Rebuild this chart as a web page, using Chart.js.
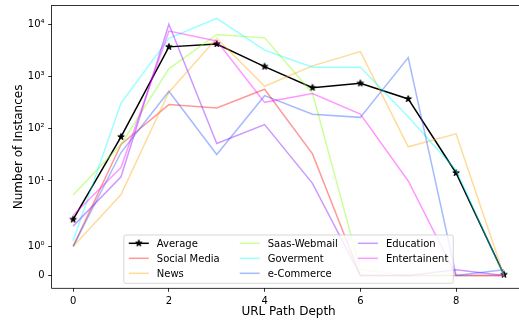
<!DOCTYPE html>
<html>
<head>
<meta charset="utf-8">
<script src="https://cdn.jsdelivr.net/npm/chart.js@4/dist/chart.umd.min.js"></script>
<style>
  html, body { margin: 0; padding: 0; background: #fff; overflow: hidden; }
  canvas { display: block; }
</style>
</head>
<body>
<canvas id="depthChart" width="531" height="322"></canvas>
<script>
// instances per URL path depth, one line per site category
const depths = [0, 1, 2, 3, 4, 5, 6, 7, 8, 9];

const average       = [1.93, 70, 3700, 4200, 1550, 610, 740, 372, 14.2, 0.03];
const socialMedia   = [1, 50, 290, 250, 570, 33, 0, 0, 0, 0];
const news          = [1, 5.5, 500, 5400, 650, 1600, 3000, 45, 80, 0];
const saasWebmail   = [5.4, 50, 1400, 6400, 5500, 480, 0.2, 0, 0, 0];
const goverment     = [1.2, 310, 5400, 13000, 3200, 1500, 1500, 170, 16, 0];
const eCommerce     = [1, 35, 520, 32, 430, 190, 165, 2300, 0, 0.2];
const education     = [1.7, 12, 10000, 52, 120, 9, 0, 0, 0.2, 0];
const entertainment = [2.2, 18, 7400, 4800, 320, 470, 190, 10, 0, 0];

const seriesNames = ['Average', 'Social Media', 'News', 'Saas-Webmail',
                     'Goverment', 'e-Commerce', 'Education', 'Entertainent'];
const seriesValues = [average, socialMedia, news, saasWebmail,
                      goverment, eCommerce, education, entertainment];

const depthTicks = [0, 2, 4, 6, 8];
const countTicks = [0, 1, 10, 100, 1000, 10000];
const countLabels = ['0', '10⁰', '10¹', '10²', '10³', '10⁴'];

const seriesColors = ['#000000', 'rgba(255,0,0,0.4)', 'rgba(255,165,0,0.4)', 'rgba(127,255,0,0.4)',
                      'rgba(0,255,255,0.4)', 'rgba(30,80,255,0.4)', 'rgba(128,0,255,0.4)', 'rgba(255,0,255,0.4)'];

// symmetric log: linear below LINTHRESH, log10 above
const LINTHRESH = 2;
const LINSCALE = 1 / (1 - 1 / 10);
function symlog(v){
  const a = Math.abs(v);
  const t = a <= LINTHRESH ? a * LINSCALE / LINTHRESH : LINSCALE + Math.log10(a / LINTHRESH);
  return Math.sign(v) * t;
}
function symexp(t){
  const a = Math.abs(t);
  const v = a <= LINSCALE ? a * LINTHRESH / LINSCALE : LINTHRESH * Math.pow(10, a - LINSCALE);
  return Math.sign(t) * v;
}

class SymlogScale extends Chart.Scale {
  determineDataLimits(){
    const {min, max} = this.getMinMax(true);
    const lo = symlog(min), hi = symlog(max), pad = (hi - lo) * 0.05;
    this.min = symexp(lo - pad);
    this.max = symexp(hi + pad);
  }
  buildTicks(){
    return countTicks.map(value => ({value}));
  }
  configure(){
    super.configure();
    this._lo = symlog(this.min);
    this._hi = symlog(this.max);
  }
  getPixelForValue(value){
    return this.getPixelForDecimal((symlog(value) - this._lo) / (this._hi - this._lo));
  }
  getValueForPixel(pixel){
    return symexp(this._lo + this.getDecimalForPixel(pixel) * (this._hi - this._lo));
  }
  getLabelForValue(value){
    return String(value);
  }
}
SymlogScale.id = 'symlog';
SymlogScale.defaults = {};
Chart.register(SymlogScale);

// filled five point star for the average line
function starMarker(size){
  const c = document.createElement('canvas');
  c.width = c.height = size;
  const g = c.getContext('2d');
  const r = size / 2 - 1.6, ri = r * 0.381966, cx = size / 2, cy = size / 2;
  g.beginPath();
  for (let i = 0; i < 10; i++){
    const rad = i % 2 ? ri : r;
    const ang = -Math.PI / 2 + i * Math.PI / 5;
    g.lineTo(cx + rad * Math.cos(ang), cy + rad * Math.sin(ang));
  }
  g.closePath();
  g.fillStyle = '#000';
  g.fill();
  g.lineWidth = 1;
  g.strokeStyle = '#000';
  g.stroke();
  return c;
}
const star = starMarker(10);

const frame = {
  id: 'frame',
  afterDatasetsDraw(chart){
    const {ctx, chartArea: a} = chart;
    ctx.save();
    ctx.strokeStyle = '#000';
    ctx.lineWidth = 0.8;
    ctx.strokeRect(a.left, a.top, a.right - a.left, a.bottom - a.top);
    ctx.restore();
  }
};

// three column legend at the lower centre of the plot
const legendBox = {
  id: 'legendBox',
  afterDraw(chart){
    const {ctx, chartArea: a} = chart;
    const items = chart.data.datasets;
    const rows = 3, cols = Math.ceil(items.length / rows);
    const handle = 20, gap = 8, colGap = 20, pad = 5, rowH = 15, height = 48.3;
    ctx.save();
    ctx.font = '10px "DejaVu Sans"';
    const colW = [];
    for (let c = 0; c < cols; c++){
      let w = 0;
      for (let r = 0; r < rows; r++){
        const d = items[c * rows + r];
        if (d) w = Math.max(w, ctx.measureText(d.label).width);
      }
      colW.push(handle + gap + w);
    }
    const width = colW.reduce((s, w) => s + w, 0) + colGap * (cols - 1) + 2 * pad;
    const left = (a.left + a.right) / 2 - width / 2;
    const top = a.bottom - 5 - height;

    ctx.beginPath();
    ctx.roundRect(left, top, width, height, 2);
    ctx.fillStyle = 'rgba(255,255,255,0.8)';
    ctx.fill();
    ctx.lineWidth = 1;
    ctx.strokeStyle = 'rgba(204,204,204,0.8)';
    ctx.stroke();

    let x = left + pad;
    for (let c = 0; c < cols; c++){
      for (let r = 0; r < rows; r++){
        const i = c * rows + r;
        const d = items[i];
        if (!d) continue;
        const y = top + 8.3 + r * rowH;
        ctx.beginPath();
        ctx.moveTo(x, y);
        ctx.lineTo(x + handle, y);
        ctx.strokeStyle = d.borderColor;
        ctx.lineWidth = 1.5;
        ctx.stroke();
        if (i === 0) ctx.drawImage(star, x + handle / 2 - star.width / 2, y - star.height / 2);
        ctx.fillStyle = '#000';
        ctx.textBaseline = 'alphabetic';
        ctx.fillText(d.label, x + handle + gap, y + 3.7);
      }
      x += colW[c] + colGap;
    }
    ctx.restore();
  }
};

const xPad = (depths[depths.length - 1] - depths[0]) * 0.05;
const tickGrid = {drawOnChartArea: false, tickLength: 3.5, tickWidth: 0.8, tickColor: '#000', color: '#000'};

Chart.defaults.font.family = '"DejaVu Sans"';
Chart.defaults.font.size = 10;
Chart.defaults.color = '#000';

new Chart(document.getElementById('depthChart'), {
  type: 'line',
  data: {
    datasets: seriesNames.map((name, i) => ({
      label: name,
      data: depths.map((d, j) => ({x: d, y: seriesValues[i][j]})),
      borderColor: seriesColors[i],
      backgroundColor: seriesColors[i],
      borderWidth: 1.5,
      pointStyle: i === 0 ? star : false,
      pointRadius: i === 0 ? 3 : 0,
      order: seriesNames.length - i,
      tension: 0,
      fill: false
    }))
  },
  options: {
    responsive: false,
    animation: false,
    events: [],
    layout: {padding: {left: 0, top: 4.7, right: 1.3, bottom: 0}},
    plugins: {legend: {display: false}, tooltip: {enabled: false}},
    scales: {
      x: {
        type: 'linear',
        min: depths[0] - xPad,
        max: depths[depths.length - 1] + xPad,
        afterBuildTicks: s => { s.ticks = depthTicks.map(v => ({value: v})); },
        afterFit: s => { s.height = 33.7; s.paddingLeft = 0; s.paddingRight = 0; },
        grid: tickGrid,
        border: {display: false},
        ticks: {padding: 3.5, maxRotation: 0, autoSkip: false, callback: v => String(v)},
        title: {display: true, text: 'URL Path Depth', font: {size: 12}, padding: {top: 0, bottom: 3}}
      },
      y: {
        type: 'symlog',
        position: 'left',
        afterFit: s => { s.width = 51.6; s.paddingTop = 0; s.paddingBottom = 0; },
        grid: tickGrid,
        border: {display: false},
        ticks: {padding: 3.5, autoSkip: false, callback: (v, i) => countLabels[i]},
        title: {display: true, text: 'Number of Instances', font: {size: 12}, padding: {top: 11.3, bottom: 0}}
      }
    }
  },
  plugins: [frame, legendBox]
});
</script>
</body>
</html>
